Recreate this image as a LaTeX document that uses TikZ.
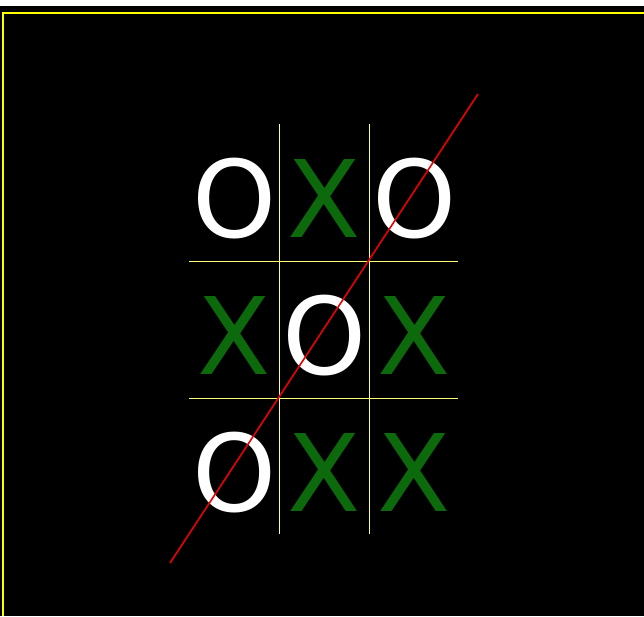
\documentclass[tikz,border=0pt]{standalone}
\usepackage{fontspec}
\setmainfont{DejaVu Sans}
\definecolor{xgreen}{RGB}{12,106,12}
\definecolor{gridyel}{RGB}{255,255,120}
\definecolor{borderyel}{RGB}{255,255,0}
\definecolor{linered}{RGB}{235,0,0}
\begin{document}
\begin{tikzpicture}[x=1pt,y=-1pt,
  cellmark/.style={anchor=base,inner sep=0pt,font=\fontsize{107}{107}\selectfont},
  omark/.style={cellmark,text=white},
  xmark/.style={cellmark,text=xgreen},
  gridline/.style={draw=gridyel,line width=1pt},
  winline/.style={draw=linered,line width=1.6pt}]
\useasboundingbox (0,0) rectangle (644,616);
\fill[white] (0,0) rectangle (644,5.5);
\fill[black!85!white] (0,5.5) rectangle (644,6.2);
\fill[black] (0,6.2) rectangle (644,616);
\draw[borderyel,line width=2pt] (3,616) -- (3,13) -- (644,13);
% grid
\coordinate (v1t) at (279,124); \coordinate (v1b) at (279,534);
\coordinate (v2t) at (369,124); \coordinate (v2b) at (369,534);
\coordinate (h1l) at (189,261); \coordinate (h1r) at (458,261);
\coordinate (h2l) at (189,398); \coordinate (h2r) at (458,398);
\draw[gridline] (v1t) -- (v1b);
\draw[gridline] (v2t) -- (v2b);
\draw[gridline] (h1l) -- (h1r);
\draw[gridline] (h2l) -- (h2r);
% marks
\node[omark] (a1) at (235,237) {O};
\node[xmark] (a2) at (324,237) {X};
\node[omark] (a3) at (415,237) {O};
\node[xmark] (b1) at (234,374) {X};
\node[omark] (b2) at (325,374) {O};
\node[xmark] (b3) at (414,374) {X};
\node[omark] (c1) at (235,511) {O};
\node[xmark] (c2) at (324,511) {X};
\node[xmark] (c3) at (414,511) {X};
% winning line
\coordinate (w1) at (478,94);
\coordinate (w2) at (170,563);
\draw[winline] (w1) -- (w2);
\end{tikzpicture}
\end{document}
